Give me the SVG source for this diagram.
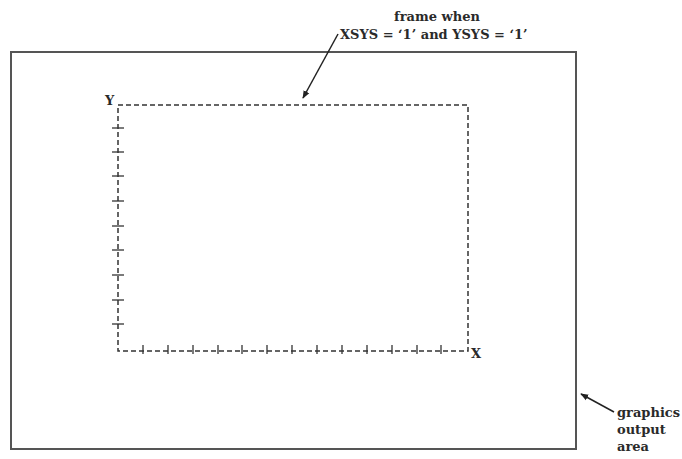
<svg xmlns="http://www.w3.org/2000/svg" width="682" height="459" viewBox="0 0 682 459">
<style>
.t{font-family:"DejaVu Serif","Liberation Serif",serif;font-size:13px;font-weight:bold;fill:#2a2a2a}
.outer{fill:none;stroke:#555;stroke-width:2}
.frame{fill:none;stroke:#333;stroke-width:1.5;stroke-dasharray:5 3}
.tick{stroke:#333;stroke-width:1.3}
.arr{stroke:#222;stroke-width:1.5;fill:none;marker-end:url(#ah)}
</style>
<defs>
<marker id="ah" viewBox="0 0 10 10" refX="9" refY="5" markerWidth="8" markerHeight="8" orient="auto" markerUnits="userSpaceOnUse">
<path d="M0,1 L10,5 L0,9 z" fill="#222"/>
</marker>
</defs>
<rect width="682" height="459" fill="#fff"/>
<g id="output-area">
<rect class="outer" x="11" y="52" width="565" height="397"/>
</g>
<g id="frame">
<rect class="frame" x="118" y="105" width="350" height="246"/>
<text class="t" x="105" y="105">Y</text>
<text class="t" x="471" y="358">X</text>
<g id="y-ticks">
<line class="tick" x1="112" y1="128" x2="124" y2="128"/>
<line class="tick" x1="112" y1="152" x2="124" y2="152"/>
<line class="tick" x1="112" y1="176" x2="124" y2="176"/>
<line class="tick" x1="112" y1="201" x2="124" y2="201"/>
<line class="tick" x1="112" y1="226" x2="124" y2="226"/>
<line class="tick" x1="112" y1="250" x2="124" y2="250"/>
<line class="tick" x1="112" y1="275" x2="124" y2="275"/>
<line class="tick" x1="112" y1="300" x2="124" y2="300"/>
<line class="tick" x1="112" y1="324" x2="124" y2="324"/>
</g>
<g id="x-ticks">
<line class="tick" x1="143" y1="345" x2="143" y2="354"/>
<line class="tick" x1="168" y1="345" x2="168" y2="354"/>
<line class="tick" x1="193" y1="345" x2="193" y2="354"/>
<line class="tick" x1="218" y1="345" x2="218" y2="354"/>
<line class="tick" x1="242" y1="345" x2="242" y2="354"/>
<line class="tick" x1="267" y1="345" x2="267" y2="354"/>
<line class="tick" x1="292" y1="345" x2="292" y2="354"/>
<line class="tick" x1="317" y1="345" x2="317" y2="354"/>
<line class="tick" x1="342" y1="345" x2="342" y2="354"/>
<line class="tick" x1="367" y1="345" x2="367" y2="354"/>
<line class="tick" x1="392" y1="345" x2="392" y2="354"/>
<line class="tick" x1="417" y1="345" x2="417" y2="354"/>
<line class="tick" x1="441" y1="345" x2="441" y2="354"/>
</g>
</g>
<g id="label-frame">
<text class="t" x="437" y="21" text-anchor="middle">frame when</text>
<text class="t" x="340" y="39">XSYS = ‘1’ and YSYS = ‘1’</text>
</g>
<g id="label-area">
<text class="t" x="617" y="417">graphics</text>
<text class="t" x="617" y="434">output</text>
<text class="t" x="617" y="451">area</text>
</g>
<g id="connectors">
<line class="arr" x1="338" y1="34" x2="303" y2="98"/>
<line class="arr" x1="614" y1="412" x2="581" y2="394"/>
</g>
</svg>
